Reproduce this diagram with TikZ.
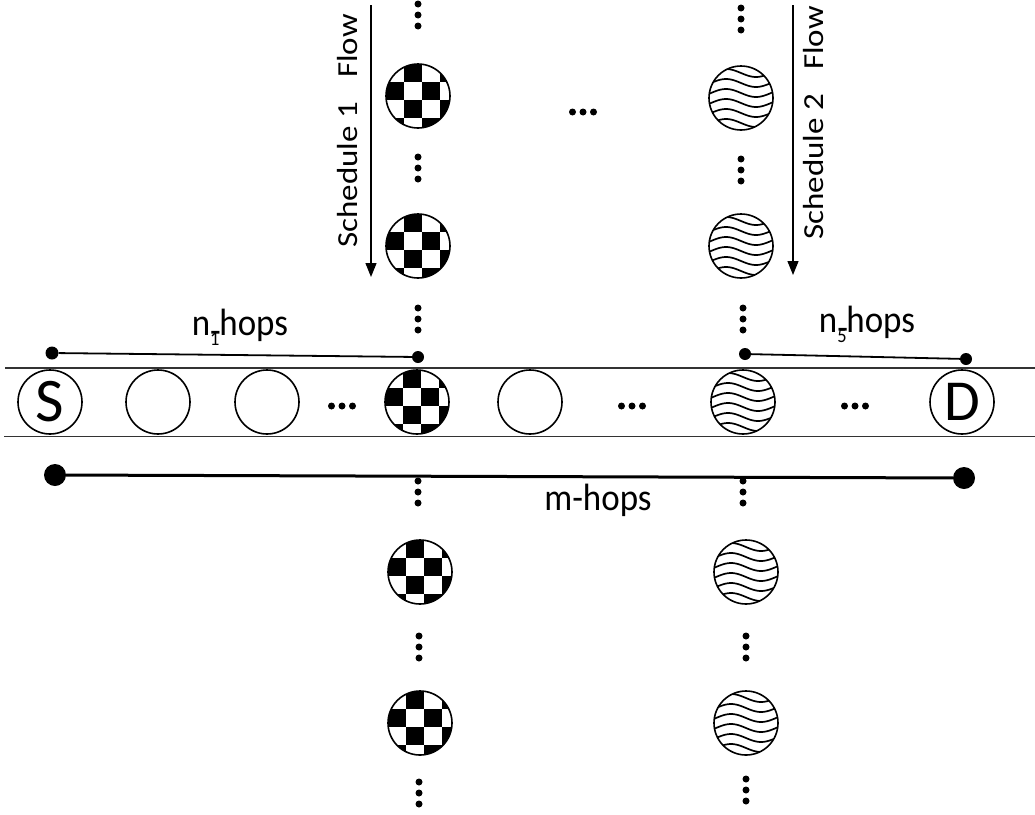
\documentclass[tikz,border=0pt]{standalone}
\usepackage{fontspec}
\setmainfont{Carlito}
\usepackage{graphicx}
\usetikzlibrary{arrows.meta}

% three stacked / side-by-side dots
\newcommand\vthree[3]{%
  \node[dot] (#1a) at (#2,#3-11) {};
  \node[dot] (#1b) at (#2,#3) {};
  \node[dot] (#1c) at (#2,#3+11) {};}
\newcommand\hthree[3]{%
  \node[dot] (#1a) at (#2-10.5,#3) {};
  \node[dot] (#1b) at (#2,#3) {};
  \node[dot] (#1c) at (#2+10.5,#3) {};}
% checkered node: name, x, y
\newcommand\chknode[3]{%
  \begin{scope}
    \clip (#2,#3) circle[radius=32];
    \foreach \i/\j in {1/0,3/0,0/1,2/1,1/2,3/2,0/3,2/3}
      \fill (#2-32+18*\i,#3-32+18*\j) rectangle ++(18,18);
  \end{scope}
  \node[hop] (#1) at (#2,#3) {};}
% wavy node: name, x, y
\newcommand\wavnode[3]{%
  \begin{scope}
    \clip (#2,#3) circle[radius=32];
    \foreach \k in {-25,-15,...,25}
      \draw[line width=1.7pt] plot[domain=-36:36, samples=45, smooth]
        ({#2+\x},{#3+\k+4*sin(6*\x)});
  \end{scope}
  \node[hop] (#1) at (#2,#3) {};}
% subscript tucked under the hyphen
\newcommand\lowsub[1]{\makebox[10pt][l]{\rlap{\raisebox{-10pt}{\fontsize{20}{20}\selectfont #1}}\raisebox{-8pt}{-}}}

\tikzset{
  hop/.style={circle, draw, line width=1.6pt, minimum size=64pt, inner sep=0pt},
  dot/.style={circle, fill, inner sep=0pt, minimum size=7pt},
  pin/.style={circle, fill, inner sep=0pt, minimum size=13pt},
  bigpin/.style={circle, fill, inner sep=0pt, minimum size=22pt},
  lbl/.style={font=\fontsize{38}{40}\selectfont, inner sep=0pt, anchor=base},
  vlbl/.style={font=\fontsize{33}{35}\selectfont, inner sep=0pt, rotate=90, anchor=base},
  band/.style={line width=1.3pt, draw=black!80},
  flow/.style={line width=1.3pt, -{Triangle[length=14pt,width=11pt]}},
}

\begin{document}
\begin{tikzpicture}[x=1pt,y=-1pt]
\useasboundingbox (0,0) rectangle (1035,814);

% the path from S to D
\coordinate (bandTL) at (5,368);
\coordinate (bandTR) at (1035,368);
\coordinate (bandBL) at (4,436.5);
\coordinate (bandBR) at (1035,436.5);
\draw[band] (bandTL) -- (bandTR);
\draw[band] (bandBL) -- (bandBR);

\node[hop, font=\fontsize{62}{62}\selectfont] (S) at (50,402) {S};
\node[hop] (h2) at (158,402) {};
\node[hop] (h3) at (267,402) {};
\hthree{rowdA}{342}{406}
\chknode{x1}{417}{402}
\node[hop] (h5) at (530,402) {};
\hthree{rowdB}{632}{406}
\wavnode{x2}{743}{402}
\hthree{rowdC}{855}{406}
\node[hop, font=\fontsize{58}{58}\selectfont] (D) at (962,402) {D};

% schedule 1 column
\vthree{cA1}{418}{15}
\chknode{cu1}{418}{96}
\vthree{cA2}{418}{168}
\chknode{cu2}{418}{246}
\vthree{cA3}{418}{319}
\vthree{cA4}{418}{492}
\chknode{cl1}{420}{572}
\vthree{cA5}{419}{647}
\chknode{cl2}{420}{723}
\vthree{cA6}{419}{793}

% schedule 2 column
\vthree{cB1}{741}{19}
\wavnode{wu1}{741}{98}
\vthree{cB2}{741}{170}
\wavnode{wu2}{741}{246}
\vthree{cB3}{743}{319}
\vthree{cB4}{743}{492}
\wavnode{wl1}{746}{572}
\vthree{cB5}{746}{647}
\wavnode{wl2}{746}{723}
\vthree{cB6}{746}{790}

\hthree{midd}{583}{112}

% flow directions
\coordinate (f1a) at (371,5);
\coordinate (f1b) at (371,277);
\draw[flow] (f1a) -- (f1b);
\node[vlbl] (f1t) at (357,131) {\scalebox{1}[0.88]{Schedule 1\hspace{24pt}Flow}};
\coordinate (f2a) at (793,5);
\coordinate (f2b) at (793,275);
\draw[flow] (f2a) -- (f2b);
\node[vlbl] (f2t) at (823,123) {\scalebox{1}[0.88]{Schedule 2\hspace{24pt}Flow}};

% hop counts
\node[pin] (p1a) at (52,353) {};
\node[pin, minimum size=12pt] (p1b) at (418,357) {};
\draw[line width=1.8pt] (p1a) -- (p1b);
\node[lbl] (n1) at (240,335) {\scalebox{0.92}[1]{n\lowsub{1}hops}};

\node[pin, minimum size=12pt] (p2a) at (745,354) {};
\node[pin, minimum size=12pt] (p2b) at (966,359) {};
\draw[line width=1.8pt] (p2a) -- (p2b);
\node[lbl] (n5) at (867,332) {\scalebox{0.92}[1]{n\lowsub{5}hops}};

\node[bigpin] (ma) at (55,475) {};
\node[bigpin] (mb) at (964,478) {};
\draw[line width=3pt] (ma) -- (mb);
\node[lbl] (mh) at (598,510) {\scalebox{0.92}[1]{m-hops}};
\end{tikzpicture}
\end{document}
